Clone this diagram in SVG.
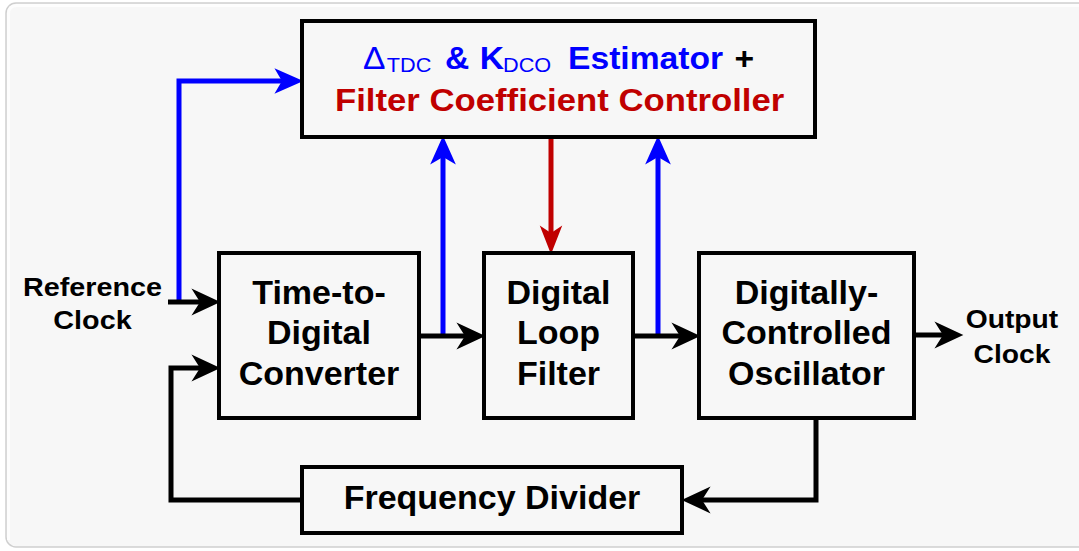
<svg xmlns="http://www.w3.org/2000/svg" width="1079" height="551" viewBox="0 0 1079 551">
<style>
.box{fill:none;stroke:#000;stroke-width:4;stroke-linejoin:miter}
.t{font-family:"Liberation Sans",Arial,sans-serif;font-weight:bold;font-size:34px;fill:#000;text-anchor:middle}
.lbl{font-family:"Liberation Sans",Arial,sans-serif;font-weight:bold;font-size:25px;fill:#000}
.top{font-family:"Liberation Sans",Arial,sans-serif;font-weight:bold;font-size:31px;font-variant-ligatures:none}
.top2{font-family:"Liberation Sans",Arial,sans-serif;font-weight:bold;font-size:32px;font-variant-ligatures:none;fill:#c00000}
.k{fill:none;stroke:#000;stroke-width:5;stroke-linejoin:miter}
.b{fill:none;stroke:#0000ff;stroke-width:5;stroke-linejoin:miter}
.r{fill:none;stroke:#c00000;stroke-width:5}
</style>
<defs>
<marker id="ak" markerUnits="userSpaceOnUse" markerWidth="30" markerHeight="30" viewBox="0 -13 28 26" refX="8" refY="0" orient="auto"><path d="M0,-12.5 L27,0 L0,12.5 L8,0 Z" fill="#000"/></marker>
<marker id="ab" markerUnits="userSpaceOnUse" markerWidth="30" markerHeight="30" viewBox="0 -13 28 26" refX="8" refY="0" orient="auto"><path d="M0,-12 L27,0 L0,12 L7,0 Z" fill="#0000ff"/></marker>
<marker id="ar" markerUnits="userSpaceOnUse" markerWidth="30" markerHeight="30" viewBox="0 -13 28 26" refX="8" refY="0" orient="auto"><path d="M0,-10.5 L27,0 L0,10.5 L7,0 Z" fill="#c00000"/></marker>
</defs>
<rect x="0" y="0" width="1079" height="551" fill="#fff"/>
<rect x="6" y="3" width="1090" height="544" rx="10" fill="#f7f7f7" stroke="#cfcfcf" stroke-width="1.5"/>
<path d="M8.5,540 V14 Q8.5,5.5 17,5.5 H1079" fill="none" stroke="#fdfdfd" stroke-width="3"/>

<g id="connectors">
<path class="b" d="M179,300 V81 H283" marker-end="url(#ab)"/>
<path class="k" d="M168,302 H200" marker-end="url(#ak)"/>
<path class="b" d="M443,338 V156" marker-end="url(#ab)"/>
<path class="b" d="M658,338 V156" marker-end="url(#ab)"/>
<path class="r" d="M551,137 V234" marker-end="url(#ar)"/>
<path class="k" d="M419,336 H465" marker-end="url(#ak)"/>
<path class="k" d="M633,336 H680" marker-end="url(#ak)"/>
<path class="k" d="M914,335 H943" marker-end="url(#ak)"/>
<path class="k" d="M816,418 V500 H702" marker-end="url(#ak)"/>
<path class="k" d="M302,500 H171 V368 H200" marker-end="url(#ak)"/>
</g>

<g id="estimator">
<rect class="box" x="302" y="21" width="513" height="116"/>
<g transform="translate(363,69) scale(1.085,1)">
<text class="top" fill="#0000ff"><tspan x="0" y="0" font-weight="normal" font-size="31">Δ</tspan><tspan x="22" y="3" font-weight="normal" font-size="20">TDC</tspan><tspan x="75.6" y="0">&amp;</tspan><tspan x="107.5" y="0">K</tspan><tspan x="129" y="3" font-weight="normal" font-size="20">DCO</tspan><tspan x="189" y="0">Estimator</tspan><tspan x="342.5" y="0" fill="#000">+</tspan></text>
</g>
<g transform="translate(335,111) scale(1.085,1)">
<text class="top2" x="0" y="0">Filter Coefficient Controller</text>
</g>
</g>

<g id="tdc">
<rect class="box" x="219" y="253" width="200" height="165"/>
<text class="t" x="319" y="304">Time-to-</text>
<text class="t" x="319" y="344">Digital</text>
<text class="t" x="319" y="385">Converter</text>
</g>

<g id="dlf">
<rect class="box" x="484" y="253" width="149" height="165"/>
<text class="t" x="558.5" y="304">Digital</text>
<text class="t" x="558.5" y="344">Loop</text>
<text class="t" x="558.5" y="385">Filter</text>
</g>

<g id="dco">
<rect class="box" x="699" y="253" width="215" height="165"/>
<text class="t" x="806.5" y="304">Digitally-</text>
<text class="t" x="806.5" y="344">Controlled</text>
<text class="t" x="806.5" y="385">Oscillator</text>
</g>

<g id="divider">
<rect class="box" x="302" y="467" width="380" height="66"/>
<text class="t" x="492" y="509">Frequency Divider</text>
</g>

<g id="ref-clock">
<g transform="translate(92.5,296) scale(1.15,1)"><text class="lbl" x="0" y="0" text-anchor="middle">Reference</text></g>
<g transform="translate(92.5,329) scale(1.15,1)"><text class="lbl" x="0" y="0" text-anchor="middle">Clock</text></g>
</g>

<g id="out-clock">
<g transform="translate(1012,328) scale(1.13,1)"><text class="lbl" x="0" y="0" text-anchor="middle">Output</text></g>
<g transform="translate(1012,363) scale(1.13,1)"><text class="lbl" x="0" y="0" text-anchor="middle">Clock</text></g>
</g>
</svg>
